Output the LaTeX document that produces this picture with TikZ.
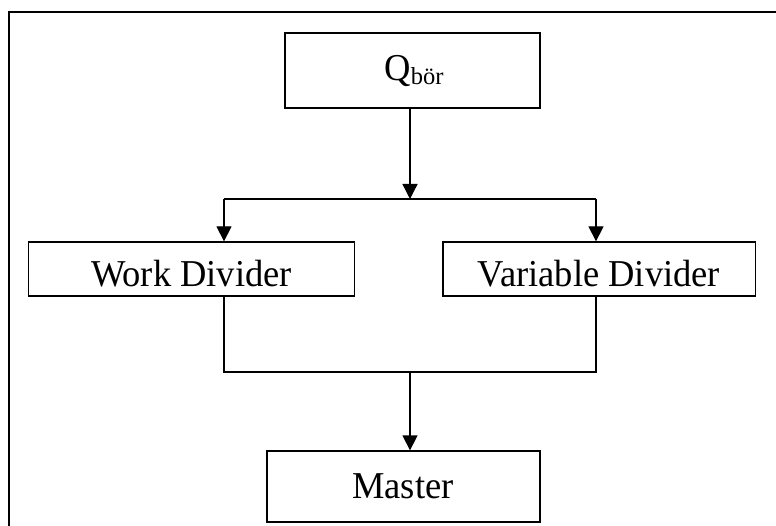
\documentclass[tikz,border=0pt]{standalone}
\usepackage{fontspec}
\setmainfont{Liberation Serif}
\usetikzlibrary{arrows.meta}
\begin{document}
\begin{tikzpicture}[x=1pt,y=-1pt,
  box/.style={draw, line width=1.3pt, inner sep=0pt, rectangle},
  lbl/.style={inner sep=0pt, font=\fontsize{36.5}{40}\selectfont},
  conn/.style={line width=1.3pt},
  arr/.style={line width=1.3pt, -{Triangle[length=15pt,width=15pt]}},
  frame/.style={line width=1.7pt}]
\useasboundingbox (0,0) rectangle (776,526);
\fill[white] (0,0) rectangle (776,526);
\draw[frame] (780,12.3) -- (9,12.3) -- (9,530);
% boxes
\node[box, minimum width=255pt, minimum height=75pt] (q) at (412.5,70.5) {};
\node[box, minimum width=326pt, minimum height=54pt] (wd) at (191.2,269) {};
\node[box, minimum width=312.5pt, minimum height=54pt] (vd) at (599.25,269) {};
\node[box, minimum width=273pt, minimum height=71pt] (m) at (403.5,486.5) {};
% labels
\node[lbl, anchor=base] (qt) at (414,81) {\scalebox{1}[1.04]{Q}\raisebox{-3.3pt}{\fontsize{24.5}{25}\selectfont bör}};
\node[lbl, anchor=base] (wdt) at (191.5,287) {\scalebox{1}[1.04]{Work Divider}};
\node[lbl, anchor=base] (vdt) at (599,287) {\scalebox{1}[1.04]{Variable Divider}};
\node[lbl, anchor=base] (mt) at (403,498) {\scalebox{1}[1.04]{Master}};
% junctions
\coordinate (jtop) at (410,199);
\coordinate (jl) at (224,199);
\coordinate (jr) at (596,199);
\coordinate (bl) at (224,372);
\coordinate (br) at (596,372);
\coordinate (bm) at (410,372);
% connectors
\draw[arr] (jtop |- q.south) -- (jtop);
\draw[conn] (jl) -- (jr);
\draw[arr] (jl) -- (jl |- wd.north);
\draw[arr] (jr) -- (jr |- vd.north);
\draw[conn] (bl |- wd.south) -- (bl) -- (br) -- (br |- vd.south);
\draw[arr] (bm) -- (bm |- m.north);
\end{tikzpicture}
\end{document}
